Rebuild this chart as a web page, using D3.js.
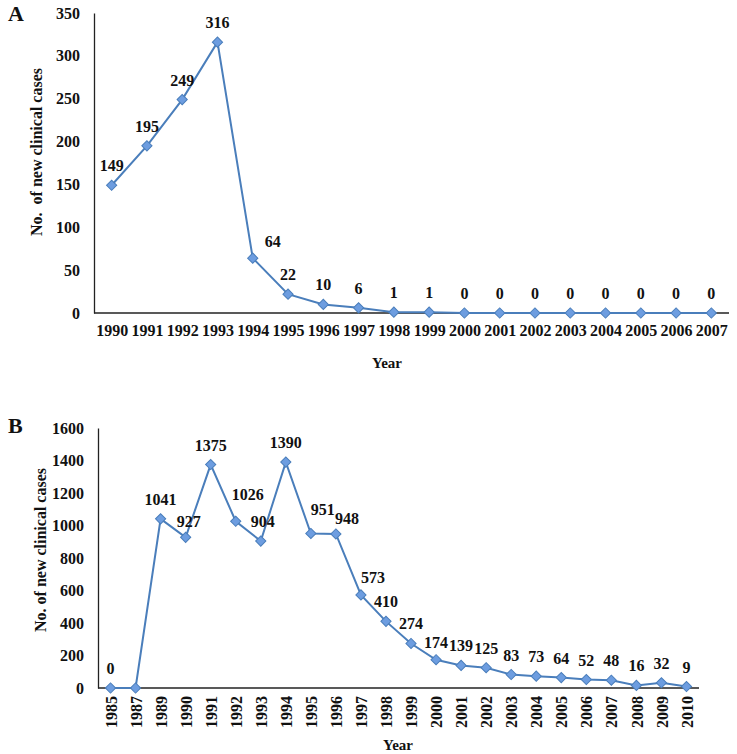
<!DOCTYPE html>
<html>
<head>
<meta charset="utf-8">
<script src="https://cdn.jsdelivr.net/npm/d3@7"></script>
<style>
  body { margin: 0; background: #fff; }
  svg text { font-family: "Liberation Serif", "Times New Roman", serif; font-weight: bold; fill: #111; }
</style>
</head>
<body>
<script>
// panel A data
var yearsA = ['1990','1991','1992','1993','1994','1995','1996','1997','1998','1999',
              '2000','2001','2002','2003','2004','2005','2006','2007'];
var casesA = [149, 195, 249, 316, 64, 22, 10, 6, 1, 1, 0, 0, 0, 0, 0, 0, 0, 0];
var ticksA = [0, 50, 100, 150, 200, 250, 300, 350];

// panel B data
var yearsB = ['1985','1987','1989','1990','1991','1992','1993','1994','1995','1996','1997',
              '1998','1999','2000','2001','2002','2003','2004','2005','2006','2007','2008','2009','2010'];
var casesB = [0, 0, 1041, 927, 1375, 1026, 904, 1390, 951, 948, 573,
              410, 274, 174, 139, 125, 83, 73, 64, 52, 48, 16, 32, 9];
var ticksB = [0, 200, 400, 600, 800, 1000, 1200, 1400, 1600];

var svg = d3.select('body').append('svg')
  .attr('width', 737)
  .attr('height', 754);

function drawPanel(cfg) {
  var data = cfg.years.map(function(y, i) { return { year: y, value: cfg.values[i] }; });

  var x = d3.scalePoint()
    .domain(cfg.years)
    .range([cfg.left, cfg.right])
    .padding(0.5);

  var y = d3.scaleLinear()
    .domain([0, d3.max(cfg.ticks)])
    .range([cfg.bottom, cfg.top]);

  var g = svg.append('g');

  // y axis
  var yAxis = g.append('g')
    .attr('transform', 'translate(' + cfg.left + ',0)')
    .call(d3.axisLeft(y).tickValues(cfg.ticks).tickFormat(d3.format('d')).tickSize(0).tickPadding(14));
  yAxis.select('.domain').attr('stroke', '#222').attr('stroke-width', 1.3);
  yAxis.selectAll('text').style('font-size', '16px').attr('font-family', null);

  // x axis
  var xAxis = g.append('g')
    .attr('transform', 'translate(0,' + cfg.bottom + ')')
    .call(d3.axisBottom(x).tickSize(0).tickPadding(12).tickSizeOuter(0));
  xAxis.select('.domain').attr('d', 'M' + cfg.left + ',0H' + cfg.right)
    .attr('stroke', '#222').attr('stroke-width', 1.3);
  xAxis.selectAll('text').style('font-size', '16px').attr('font-family', null);

  if (cfg.rotate) {
    xAxis.selectAll('text')
      .attr('transform', 'rotate(-90)')
      .attr('x', -8)
      .attr('y', 0)
      .attr('dy', '0.35em')
      .style('text-anchor', 'end');
  }

  // line
  var line = d3.line()
    .x(function(d) { return x(d.year); })
    .y(function(d) { return y(d.value); });

  g.append('path')
    .datum(data)
    .attr('d', line)
    .attr('fill', 'none')
    .attr('stroke', '#4a7ebb')
    .attr('stroke-width', 2);

  // diamond markers
  g.selectAll('.marker')
    .data(data)
    .enter()
    .append('path')
    .attr('class', 'marker')
    .attr('d', d3.symbol(d3.symbolSquare, 52))
    .attr('transform', function(d) { return 'translate(' + x(d.year) + ',' + y(d.value) + ') rotate(45)'; })
    .attr('fill', '#6d9de0')
    .attr('stroke', '#4a7ebb')
    .attr('stroke-width', 1);

  // value labels
  g.selectAll('.val')
    .data(data.filter(function(d) { return !(cfg.nudge[d.year] && cfg.nudge[d.year].hide); }))
    .enter()
    .append('text')
    .attr('class', 'val')
    .attr('x', function(d) { var n = cfg.nudge[d.year]; return x(d.year) + (n ? n[0] : 0); })
    .attr('y', function(d) { var n = cfg.nudge[d.year]; return y(d.value) - 14 + (n ? n[1] : 0); })
    .style('text-anchor', 'middle')
    .style('font-size', '16px')
    .text(function(d) { return d.value; });

  // axis titles
  g.append('text')
    .attr('transform', 'translate(' + cfg.yTitle[0] + ',' + cfg.yTitle[1] + ') rotate(-90)')
    .attr('dy', '0.35em')
    .style('text-anchor', 'middle')
    .style('font-size', '16px')
    .style('white-space', 'pre')
    .text(cfg.yLabel);

  g.append('text')
    .attr('x', cfg.xTitle[0])
    .attr('y', cfg.xTitle[1])
    .style('text-anchor', 'middle')
    .style('font-size', '15px')
    .text('Year');

  // panel letter
  g.append('text')
    .attr('x', 8)
    .attr('y', cfg.letterY)
    .style('font-size', '22px')
    .text(cfg.letter);
}

drawPanel({
  years: yearsA, values: casesA, ticks: ticksA,
  left: 94, right: 729, top: 13, bottom: 313,
  nudge: { '1994': [20, 3] },
  yLabel: 'No.  of new clinical cases', yTitle: [36, 152],
  xTitle: [387, 368],
  letter: 'A', letterY: 21
});

drawPanel({
  years: yearsB, values: casesB, ticks: ticksB,
  left: 98, right: 699, top: 428, bottom: 688, rotate: true,
  nudge: { '1987': { hide: true }, '1990': [3, 4], '1992': [12, -7], '1993': [2, 0],
           '1995': [12, -4], '1996': [11, 4], '1997': [12, 2], '2000': [0, 2] },
  yLabel: 'No. of new clinical cases', yTitle: [40, 550],
  xTitle: [398, 750],
  letter: 'B', letterY: 433
});
</script>
</body>
</html>
